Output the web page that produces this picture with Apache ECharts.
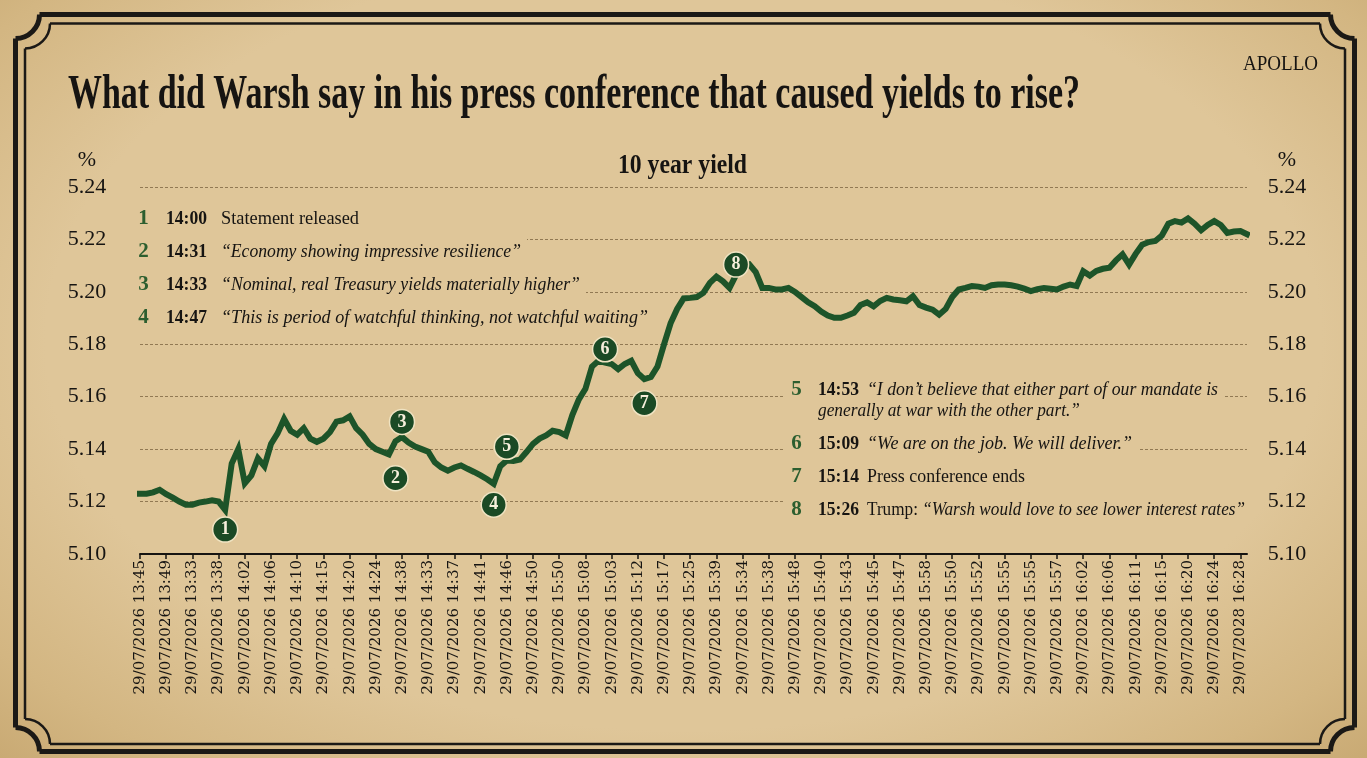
<!DOCTYPE html>
<html>
<head>
<meta charset="utf-8">
<script src="https://cdn.jsdelivr.net/npm/echarts@6/dist/echarts.min.js"></script>
<style>
html,body{margin:0;padding:0;}
#c{width:1367px;height:758px;background:radial-gradient(ellipse at 50% 45%, #dfc699 0%, #dfc699 66%, #d3b682 88%, #c9aa74 100%);}
</style>
</head>
<body>
<div id="c"></div>
<script>
// ---------------- DATA ----------------
const tickLabels = [
  '29/07/2026 13:45','29/07/2026 13:49','29/07/2026 13:33','29/07/2026 13:38','29/07/2026 14:02',
  '29/07/2026 14:06','29/07/2026 14:10','29/07/2026 14:15','29/07/2026 14:20','29/07/2026 14:24',
  '29/07/2026 14:38','29/07/2026 14:33','29/07/2026 14:37','29/07/2026 14:41','29/07/2026 14:46',
  '29/07/2026 14:50','29/07/2026 15:50','29/07/2026 15:08','29/07/2026 15:03','29/07/2026 15:12',
  '29/07/2026 15:17','29/07/2026 15:25','29/07/2026 15:39','29/07/2026 15:34','29/07/2026 15:38',
  '29/07/2026 15:48','29/07/2026 15:40','29/07/2026 15:43','29/07/2026 15:45','29/07/2026 15:47',
  '29/07/2026 15:58','29/07/2026 15:50','29/07/2026 15:52','29/07/2026 15:55','29/07/2026 15:55',
  '29/07/2026 15:57','29/07/2026 16:02','29/07/2026 16:06','29/07/2026 16:11','29/07/2026 16:15',
  '29/07/2026 16:20','29/07/2026 16:24','29/07/2028 16:28'
];
const pointsPerTick = 4;

const yieldValues = [
  5.1230,5.1230,5.1235,5.1245,5.1228,5.1215,5.1200,5.1188,5.1188,5.1196,
  5.1200,5.1205,5.1200,5.1168,5.1345,5.1400,5.1270,5.1300,5.1365,5.1335,
  5.1420,5.1460,5.1515,5.1470,5.1455,5.1480,5.1440,5.1428,5.1440,5.1465,
  5.1505,5.1510,5.1525,5.1480,5.1455,5.1420,5.1400,5.1390,5.1380,5.1430,
  5.1446,5.1425,5.1410,5.1400,5.1390,5.1350,5.1330,5.1318,5.1330,5.1338,
  5.1325,5.1313,5.1300,5.1285,5.1268,5.1335,5.1357,5.1355,5.1360,5.1389,
  5.1420,5.1440,5.1452,5.1470,5.1465,5.1452,5.1530,5.1590,5.1630,5.1715,
  5.1737,5.1730,5.1725,5.1705,5.1725,5.1737,5.1690,5.1667,5.1675,5.1715,
  5.1800,5.1880,5.1935,5.1975,5.1977,5.1980,5.1996,5.2034,5.2058,5.2040,
  5.2015,5.2065,5.2100,5.2105,5.2075,5.2015,5.2015,5.2009,5.2009,5.2015,
  5.2000,5.1980,5.1960,5.1945,5.1925,5.1910,5.1901,5.1901,5.1910,5.1920,
  5.1950,5.1960,5.1945,5.1965,5.1977,5.1971,5.1968,5.1964,5.1983,5.1950,
  5.1940,5.1932,5.1913,5.1935,5.1980,5.2009,5.2015,5.2022,5.2020,5.2015,
  5.2025,5.2028,5.2028,5.2025,5.2020,5.2012,5.2003,5.2010,5.2015,5.2012,
  5.2009,5.2020,5.2028,5.2022,5.2079,5.2062,5.2080,5.2088,5.2092,5.2120,
  5.2143,5.2104,5.2145,5.2180,5.2190,5.2194,5.2215,5.2260,5.2270,5.2264,
  5.2280,5.2260,5.2235,5.2255,5.2270,5.2255,5.2225,5.2230,5.2232,5.2220
];

const yTicks = { min: 5.10, max: 5.24, step: 0.02 };

const noteNums  = ['1','2','3','4','5','6','7','8'];
const noteTimes = ['14:00','14:31','14:33','14:47','14:53','15:09','15:14','15:26'];
const noteLead  = ['Statement released','','','','','','Press conference ends','Trump: '];
const noteQuote = [
  '',
  '\u201cEconomy showing impressive resilience\u201d',
  '\u201cNominal, real Treasury yields materially higher\u201d',
  '\u201cThis is period of watchful thinking, not watchful waiting\u201d',
  '\u201cI don\u2019t believe that either part of our mandate is\ngenerally at war with the other part.\u201d',
  '\u201cWe are on the job. We will deliver.\u201d',
  '',
  '\u201cWarsh would love to see lower interest rates\u201d'
];
// marker positions (point index, yield level) for numbered circles
const markerIdx = [13, 39, 40, 54, 56, 71, 77, 91];
const markerVal = [5.1093, 5.1289, 5.1504, 5.1188, 5.1409, 5.1781, 5.1575, 5.2104];

const titleText = 'What did Warsh say in his press conference that caused yields to rise?';
const subTitleText = '10 year yield';
const brandText = 'APOLLO';

// ---------------- LAYOUT / STYLE ----------------
const PAPER = '#dfc699';
const INK = '#161412';
const GREEN = '#1d5429';
const NUMGREEN = '#2c5e2f';
const SERIF = '"Liberation Serif", "Times New Roman", serif';

const mctx = document.createElement('canvas').getContext('2d');
function tw(txt, weight, style, size, fam) {
  mctx.font = `${style||'normal'} ${weight||'normal'} ${size}px ${fam||SERIF}`;
  return mctx.measureText(txt).width;
}

const xCats = yieldValues.map((_, i) => String(i));

const graphics = [];

// frame
function frame(x0, y0, x1, y1, r, lw) {
  const st = { stroke: '#1b1916', lineWidth: lw, fill: null };
  const els = [
    { type: 'line', shape: { x1: x0 + r, y1: y0, x2: x1 - r, y2: y0 }, style: st },
    { type: 'line', shape: { x1: x1, y1: y0 + r, x2: x1, y2: y1 - r }, style: st },
    { type: 'line', shape: { x1: x0 + r, y1: y1, x2: x1 - r, y2: y1 }, style: st },
    { type: 'line', shape: { x1: x0, y1: y0 + r, x2: x0, y2: y1 - r }, style: st },
    { type: 'arc', shape: { cx: x1, cy: y0, r: r, startAngle: Math.PI / 2, endAngle: Math.PI, clockwise: true }, style: st },
    { type: 'arc', shape: { cx: x1, cy: y1, r: r, startAngle: Math.PI, endAngle: Math.PI * 1.5, clockwise: true }, style: st },
    { type: 'arc', shape: { cx: x0, cy: y1, r: r, startAngle: Math.PI * 1.5, endAngle: Math.PI * 2, clockwise: true }, style: st },
    { type: 'arc', shape: { cx: x0, cy: y0, r: r, startAngle: 0, endAngle: Math.PI / 2, clockwise: true }, style: st }
  ];
  els.forEach(e => { e.z = 10; e.silent = true; graphics.push(e); });
}
frame(15.5, 14.5, 1354.5, 751.5, 24, 5);
frame(25, 23.5, 1345, 744, 25, 2.5);

// fitted text helper
function fittedText(str, x, y, target, size, weight, style, color, align, z) {
  const w = tw(str, weight, style, size);
  const s = target / w;
  let gx = x;
  if (align === 'center') gx = x - target / 2;
  graphics.push({
    type: 'group', x: gx, y: y, scaleX: s, z: z || 2,
    children: [{
      type: 'text', x: 0, y: 0, z: z || 2,
      style: { text: str, fill: color, fontFamily: SERIF, fontSize: size, fontWeight: weight || 'normal',
               fontStyle: style || 'normal', align: 'left', verticalAlign: 'middle' }
    }]
  });
}

fittedText(titleText, 68, 96, 1012, 48, 'bold', 'normal', INK);
fittedText(subTitleText, 682.5, 166, 129, 27, 'bold', 'normal', INK, 'center');
fittedText(brandText, 1243, 65, 75, 20, 'normal', 'normal', INK);

// annotation rows
const leftRowY = [219, 252, 285, 318];
const leftEnd  = [359, 521, 580, 648];
const rightRowY = [390, 444, 477, 510];
const rightEnd = [1218, 1132, 1025, 1245];
const rightWrapEnd = 1080;

function noteRow(i, y, numX, timeX, textX, endX, wrapEnd) {
  const FS = 19;
  graphics.push({ type: 'rect', z: 1, silent: true,
    shape: { x: numX - 12, y: y - 13, width: endX - numX + 18, height: 26 }, style: { fill: PAPER } });
  graphics.push({ type: 'text', z: 2, x: numX, y: y,
    style: { text: noteNums[i], fill: NUMGREEN, fontFamily: SERIF, fontSize: 21, fontWeight: 'bold', align: 'center', verticalAlign: 'middle' } });
  fittedText(noteTimes[i], timeX, y, 41, FS, 'bold', 'normal', INK);
  const lead = noteLead[i];
  const qParts = noteQuote[i].split('\n');
  const q1 = qParts[0];
  const leadW = lead ? tw(lead, 'normal', 'normal', FS) : 0;
  const q1W = q1 ? tw(q1, 'normal', 'italic', FS) : 0;
  const s = (endX - textX) / (leadW + q1W);
  const kids = [];
  if (lead) kids.push({ type: 'text', x: 0, y: 0, z: 2, style: { text: lead, fill: INK, fontFamily: SERIF, fontSize: FS, align: 'left', verticalAlign: 'middle' } });
  if (q1) kids.push({ type: 'text', x: leadW, y: 0, z: 2, style: { text: q1, fill: INK, fontFamily: SERIF, fontSize: FS, fontStyle: 'italic', align: 'left', verticalAlign: 'middle' } });
  graphics.push({ type: 'group', x: textX, y: y, scaleX: s, z: 2, children: kids });
  if (qParts.length > 1) {
    const y2 = y + 21;
    graphics.push({ type: 'rect', z: 1, silent: true,
      shape: { x: timeX - 4, y: y2 - 11, width: wrapEnd - timeX + 10, height: 22 }, style: { fill: PAPER } });
    fittedText(qParts[1], timeX, y2, wrapEnd - timeX, FS, 'normal', 'italic', INK);
  }
}
for (let k = 0; k < 4; k++) noteRow(k, leftRowY[k], 143.5, 166, 221, leftEnd[k]);
for (let k = 0; k < 4; k++) noteRow(k + 4, rightRowY[k], 796.5, 818, 867, rightEnd[k], rightWrapEnd);

// ---------------- CHART ----------------
const chart = echarts.init(document.getElementById('c'), null, { renderer: 'canvas' });
const yLabelStyle = { fontFamily: SERIF, fontSize: 22, color: INK };

chart.setOption({
  backgroundColor: 'transparent',
  animation: false,
  grid: { left: 140, right: 120, top: 187, bottom: 204, containLabel: false },
  xAxis: {
    type: 'category', data: xCats, boundaryGap: false,
    axisLine: { show: true, lineStyle: { color: INK, width: 2 } },
    axisTick: { show: true, interval: pointsPerTick - 1, length: 5, lineStyle: { color: INK, width: 1.5 } },
    axisLabel: {
      interval: pointsPerTick - 1, rotate: 90, margin: 6,
      fontFamily: '"DejaVu Serif", serif', fontSize: 15, color: INK,
      formatter: (v, idx) => (idx % pointsPerTick === 0 ? (tickLabels[idx / pointsPerTick] || '') : '')
    },
    splitLine: { show: false }
  },
  yAxis: [
    {
      type: 'value', position: 'left', offset: 53,
      min: yTicks.min, max: yTicks.max, interval: yTicks.step,
      axisLine: { show: false }, axisTick: { show: false },
      axisLabel: Object.assign({ margin: 0, align: 'center', formatter: v => v.toFixed(2) }, yLabelStyle),
      splitLine: { show: true, lineStyle: { type: [3, 2], color: 'rgba(80,58,25,0.55)', width: 1 } },
      name: '%', nameLocation: 'end', nameGap: 16,
      nameTextStyle: Object.assign({ align: 'center' }, yLabelStyle)
    },
    {
      type: 'value', position: 'right', offset: 40,
      min: yTicks.min, max: yTicks.max, interval: yTicks.step,
      axisLine: { show: false }, axisTick: { show: false },
      axisLabel: Object.assign({ margin: 0, align: 'center', formatter: v => v.toFixed(2) }, yLabelStyle),
      splitLine: { show: false },
      name: '%', nameLocation: 'end', nameGap: 16,
      nameTextStyle: Object.assign({ align: 'center' }, yLabelStyle)
    }
  ],
  series: [
    {
      type: 'line', data: yieldValues, symbol: 'none', z: 3,
      lineStyle: { color: GREEN, width: 6, cap: 'square', join: 'miter' },
      emphasis: { disabled: true }
    },
    {
      type: 'scatter', z: 5,
      data: markerIdx.map((x, i) => [x, markerVal[i], noteNums[i]]),
      symbol: 'circle', symbolSize: 25,
      itemStyle: { color: '#1b4a25', borderColor: '#efe3c2', borderWidth: 1.5, opacity: 1 },
      label: {
        show: true, position: 'inside', formatter: p => p.data[2],
        color: '#f6efdc', fontFamily: SERIF, fontWeight: 'bold', fontSize: 18
      },
      emphasis: { disabled: true }
    }
  ],
  graphic: { elements: graphics }
});
</script>
</body>
</html>
